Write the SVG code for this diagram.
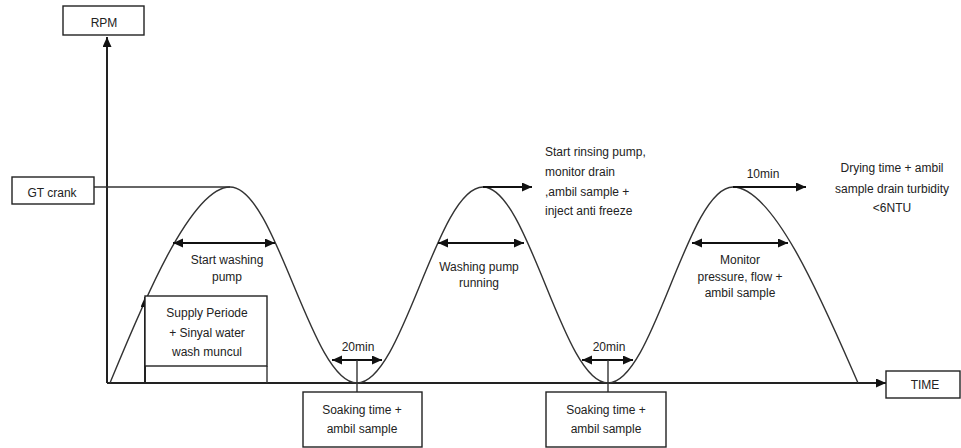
<svg xmlns="http://www.w3.org/2000/svg" width="961" height="448" viewBox="0 0 961 448">
<defs>
<marker id="ah" markerUnits="userSpaceOnUse" markerWidth="11" markerHeight="10" refX="10" refY="4.5" orient="auto-start-reverse"><path d="M0,0 L10,4.5 L0,9 z" fill="#111"/></marker>
<style>
text{font-family:"Liberation Sans",Arial,sans-serif;font-size:12px;fill:#222}
.c{text-anchor:middle}
.box{fill:#fff;stroke:#222;stroke-width:1.4}
.ln{fill:none;stroke:#333;stroke-width:1.4}
.ax{fill:none;stroke:#222;stroke-width:2}
.ar{fill:none;stroke:#111;stroke-width:1.8}
</style>
</defs>
<rect width="961" height="448" fill="#fff"/>
<g id="connectors">
<line class="ax" x1="107" y1="383" x2="107" y2="37" marker-end="url(#ah)"/>
<line class="ax" x1="107" y1="383" x2="886" y2="383" marker-end="url(#ah)"/>
<line class="ln" x1="94" y1="187" x2="230" y2="187"/>
<path id="curve" class="ln" d="M110,383 C140,310 190,187 230,187 C276,187 311,383 357,383 C403,383 437,187 483,187 C528.5,187 562.5,383 608,383 C653.5,383 687.5,187 733,187 C775,187 826,310 858,383"/>
<line class="ar" x1="173" y1="243" x2="275" y2="243" marker-start="url(#ah)" marker-end="url(#ah)"/>
<line class="ar" x1="438" y1="243" x2="524" y2="243" marker-start="url(#ah)" marker-end="url(#ah)"/>
<line class="ar" x1="692" y1="243" x2="788" y2="243" marker-start="url(#ah)" marker-end="url(#ah)"/>
<line class="ar" x1="332" y1="360" x2="382" y2="360" marker-start="url(#ah)" marker-end="url(#ah)"/>
<line class="ar" x1="582" y1="360" x2="633" y2="360" marker-start="url(#ah)" marker-end="url(#ah)"/>
<line class="ln" x1="357" y1="360" x2="357" y2="392"/>
<line class="ln" x1="608" y1="360" x2="608" y2="392"/>
<line class="ar" x1="483" y1="187" x2="532" y2="187" marker-end="url(#ah)"/>
<line class="ar" x1="733" y1="187" x2="806" y2="187" marker-end="url(#ah)"/>
<line class="ax" x1="145" y1="383" x2="145" y2="297" marker-end="url(#ah)"/>
<line class="ln" x1="267" y1="366" x2="267" y2="383"/>
</g>
<g id="rpm"><rect class="box" x="63" y="6" width="81" height="29"/><text class="c" x="104" y="27">RPM</text></g>
<g id="gtcrank"><rect class="box" x="12" y="177" width="82" height="27"/><text class="c" x="52" y="197">GT crank</text></g>
<g id="time"><rect class="box" x="886" y="371" width="74" height="27"/><text class="c" x="925" y="389">TIME</text></g>
<g id="supply"><rect class="box" x="145" y="296" width="122" height="70"/>
<text class="c" x="207" y="317">Supply Periode</text>
<text class="c" x="207" y="337">+ Sinyal water</text>
<text class="c" x="207" y="356">wash muncul</text></g>
<g id="soak1"><rect class="box" x="303" y="392" width="119" height="55"/>
<text class="c" x="362" y="414">Soaking time +</text>
<text class="c" x="362" y="433">ambil sample</text></g>
<g id="soak2"><rect class="box" x="546" y="392" width="120" height="55"/>
<text class="c" x="606" y="414">Soaking time +</text>
<text class="c" x="606" y="433">ambil sample</text></g>
<g id="startwashing"><text class="c" x="227" y="264">Start washing</text><text class="c" x="227" y="281">pump</text></g>
<g id="washingrunning"><text class="c" x="479" y="271">Washing pump</text><text class="c" x="479" y="287">running</text></g>
<g id="monitor"><text class="c" x="740" y="264">Monitor</text><text class="c" x="740" y="281">pressure, flow +</text><text class="c" x="740" y="297">ambil sample</text></g>
<g id="min1"><text class="c" x="358" y="351">20min</text></g>
<g id="min2"><text class="c" x="609" y="351">20min</text></g>
<g id="min3"><text class="c" x="763" y="178">10min</text></g>
<g id="rinsing"><text x="545" y="156">Start rinsing pump,</text><text x="545" y="176">monitor drain</text><text x="545" y="196">,ambil sample +</text><text x="545" y="215">inject  anti freeze</text></g>
<g id="drying"><text class="c" x="892" y="172">Drying time + ambil</text><text class="c" x="892" y="193">sample drain turbidity</text><text class="c" x="892" y="212">&lt;6NTU</text></g>
</svg>
